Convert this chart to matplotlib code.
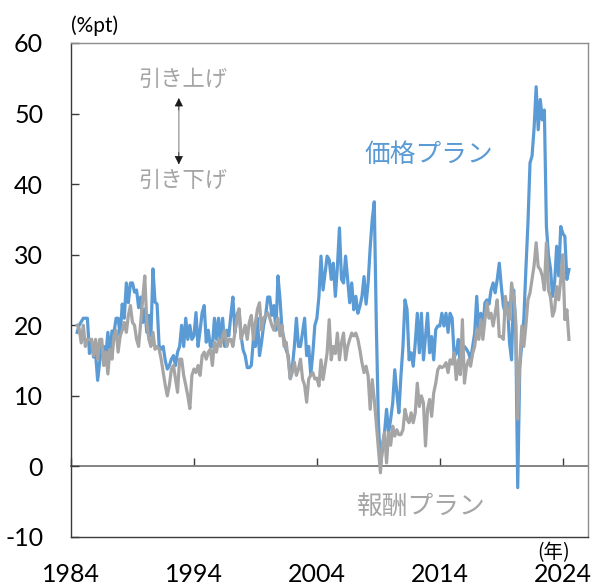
import numpy as np
import matplotlib
matplotlib.use("Agg")
import matplotlib.pyplot as plt

# Bimonthly observations starting mid-1984 (%pt)
start_year = 1984.5
price_plan = [
    19, 20, 20.5,                          # 1984
    21, 21, 21, 16, 18, 15.5,              # 1985
    16, 12.2, 14.8, 17, 17, 15.7,          # 1986
    19, 15.7, 19.2, 19, 21, 21,            # 1987
    18.5, 23, 21, 26, 23.2, 26,            # 1988
    26, 24.7, 25, 22.5, 24, 20.4,          # 1989
    22.3, 19, 21.4, 18.5, 28, 23.3,        # 1990
    23, 17.1, 16.6, 17, 15, 13.8,          # 1991
    14.3, 15.2, 15.7, 14.3, 16.2, 17,      # 1992
    20, 17, 21, 18, 20, 18,                # 1993
    18.5, 21.8, 17, 19.3, 21.8, 22.8,      # 1994
    17.6, 19.3, 17, 17, 21, 18,            # 1995
    21, 17.6, 21, 17, 19.3, 18.5,          # 1996
    21.4, 24, 19, 21.4, 22.3, 18.5,        # 1997
    16.5, 15.7, 14, 14, 14.3, 18,          # 1998
    17, 21, 15.7, 17.6, 20, 21.4,          # 1999
    24, 24, 21.4, 22.8, 19.3, 27,          # 2000
    23.7, 19.3, 18, 16.5, 15.7, 12.5,      # 2001
    14, 17, 21, 17, 17, 19,                # 2002
    21, 15.7, 17, 13, 16, 20,              # 2003
    21, 24.1, 29.8, 25, 27.4, 29.8,        # 2004
    29.3, 26.5, 28.8, 24.1, 28.3, 33.8,    # 2005
    26.5, 26, 29.8, 26.5, 23.2, 26,        # 2006
    22.2, 24.1, 21.7, 22.7, 24.1, 26.9,    # 2007
    23, 26, 31, 35, 37.5, 20,              # 2008
    6.5, 0, 2.4, 4.8, 8.1, 4.8,            # 2009
    6.7, 9, 13.7, 10.4, 7.6, 12.8,         # 2010
    17, 23.6, 22.2, 15.1, 16.1, 14.2,      # 2011
    17.5, 21.7, 16.1, 21.7, 15.1, 18.4,    # 2012
    21.7, 16.1, 18.4, 15.1, 19.4, 19.9,    # 2013
    19.9, 21.7, 19.9, 21.7, 19, 21.7,      # 2014
    21, 15.6, 16, 18, 14.2, 17,            # 2015
    17, 16.6, 16.1, 15.1, 17, 18.9,        # 2016
    24.1, 18.9, 21.7, 19.5, 23.2, 23.6,    # 2017
    23, 25, 26, 24.6, 26.5, 28.8,          # 2018
    25.5, 22.7, 21.7, 23.2, 17.5, 15.1,    # 2019
    25, 20, -3, 14, 17.5, 21,              # 2020
    28, 34.5, 43, 44, 48, 53.8,            # 2021
    47.7, 52, 49.1, 50.5, 34, 30,          # 2022
    28, 24.1, 26, 31.2, 27, 34,            # 2023
    33, 32.6, 26.5, 27.9,                  # 2024
]
pay_plan = [
    20, 19.5, 17.5,                        # 1984
    20, 17, 18, 18, 18, 15.7,              # 1985
    18, 15.2, 18, 18, 14.3, 16.2,          # 1986
    13.1, 16.6, 15.2, 18.5, 19.3, 16.2,    # 1987
    18.5, 19.3, 20.4, 19, 21.4, 22.8,      # 1988
    20.4, 20, 18, 17, 20.4, 23.7,          # 1989
    27, 20.4, 18, 17, 19, 16.6,            # 1990
    17, 16.6, 15.2, 13.3, 11.5, 10,        # 1991
    11.5, 13.8, 14.3, 12.4, 10.5, 15.2,    # 1992
    15.2, 12.9, 11.5, 10, 8.2, 12.9,       # 1993
    13.8, 13.3, 14.3, 12.9, 15.7, 16.2,    # 1994
    15.2, 16.2, 16.6, 14.3, 17.6, 16.2,    # 1995
    18, 17, 18.5, 19.3, 17, 18,            # 1996
    18, 17, 19, 21, 22.3, 18,              # 1997
    19, 20, 18, 20.4, 21.4, 18,            # 1998
    20.4, 22.3, 23.2, 19.3, 21, 21.4,      # 1999
    21.8, 21, 20, 19.3, 20.4, 21,          # 2000
    18.5, 20, 17, 17.6, 15.2, 12.4,        # 2001
    13.3, 14.8, 12.9, 13.8, 15.2, 12.4,    # 2002
    11.5, 9.1, 12.4, 12.9, 13.3, 12.4,     # 2003
    12.5, 11.4, 15.1, 12.3, 14.2, 16.1,    # 2004
    20.8, 15.1, 17, 16, 18.9, 15.1,        # 2005
    17.5, 18.9, 15.1, 17, 18, 18.9,        # 2006
    18.5, 18.9, 18, 16.5, 14.7, 13.3,      # 2007
    14.2, 12.8, 8.1, 12.3, 9.5, 6,         # 2008
    2.4, -0.9, 3.3, 4.8, 0.5, 4.8,         # 2009
    3, 5.7, 4.3, 5.2, 4.5, 4.5,            # 2010
    5.2, 8.1, 6.7, 6.2, 7.6, 6.2,          # 2011
    7.6, 11.8, 8.5, 10, 9, 2.9,            # 2012
    8.1, 9.5, 7.1, 10.4, 11.8, 13.7,       # 2013
    14.2, 14, 14.2, 14.7, 13.3, 15.1,      # 2014
    14.5, 16.1, 12.3, 15.1, 13, 20.8,      # 2015
    11.8, 14.2, 15.1, 14.2, 16, 17,        # 2016
    19.4, 18, 20.8, 18, 20.8, 23.2,        # 2017
    21, 21.7, 19.9, 21.7, 23.6, 18.4,      # 2018
    18.4, 18, 24.1, 21.7, 20.8, 26,        # 2019
    24.1, 20.8, 6.7, 14.7, 19.9, 17,       # 2020
    20, 23.6, 24.6, 26.5, 28.5, 31.7,      # 2021
    28.3, 27.9, 27, 25, 31.7, 25,          # 2022
    24, 21.3, 22.2, 25.5, 23.6, 26.5,      # 2023
    30, 20.8, 22.2, 18,                    # 2024
]
year_ticks = [1984, 1994, 2004, 2014, 2024]
value_ticks = [-10, 0, 10, 20, 30, 40, 50, 60]

BLUE = "#5B9BD5"
GRAY = "#A5A5A5"
DIGIT_FONT = ["Lato", "DejaVu Sans"]
JP_FONT = ["Noto Sans CJK JP", "DejaVu Sans"]

t = start_year + np.arange(len(price_plan)) / 6.0

fig = plt.figure(figsize=(5.95, 5.86), dpi=100)
ax = fig.add_axes([71 / 595, 49 / 586, 517 / 595, 494 / 586])

ax.plot(t, price_plan, color=BLUE, lw=2.3, solid_joinstyle="round", zorder=3)
ax.plot(t, pay_plan, color=GRAY, lw=2.3, solid_joinstyle="round", zorder=4)

ax.set_xlim(1984, 2026.05)
ax.set_ylim(-10, 60)

# frame
for side in ("top", "right"):
    ax.spines[side].set_color("#8c8c8c")
    ax.spines[side].set_linewidth(1.0)
for side in ("left", "bottom"):
    ax.spines[side].set_color("#3a3a3a")
    ax.spines[side].set_linewidth(1.0)

ax.set_yticks(value_ticks)
ax.set_yticklabels([str(v) for v in value_ticks], fontfamily=DIGIT_FONT, fontsize=18)
ax.tick_params(axis="y", direction="in", length=6, width=1.0, color="#3a3a3a", pad=20)

ax.set_xticks(year_ticks)
ax.set_xticklabels([str(y) for y in year_ticks], fontfamily=DIGIT_FONT, fontsize=18)
ax.tick_params(axis="x", length=0, pad=19)

# horizontal axis at zero with upward year ticks
zero_axis = ax.secondary_xaxis(10 / 70)
zero_axis.set_xticks(year_ticks)
zero_axis.tick_params(axis="x", direction="in", length=6, width=1.0, color="#3a3a3a",
                      labelbottom=False)
zero_axis.spines["bottom"].set_color("#7a7a7a")
zero_axis.spines["bottom"].set_linewidth(1.3)

# series labels
ax.text(2013.1, 44.2, "価格プラン", color=BLUE, fontsize=18.5, family=JP_FONT,
        ha="center", va="center", zorder=6)
ax.text(2012.5, -5.7, "報酬プラン", color=GRAY, fontsize=18.5, family=JP_FONT,
        ha="center", va="center", zorder=6)

# direction guide
ax.text(1993.1, 54.8, "引き上げ", color=GRAY, fontsize=16, family=JP_FONT,
        ha="center", va="center")
ax.text(1993.1, 40.5, "引き下げ", color=GRAY, fontsize=16, family=JP_FONT,
        ha="center", va="center")
ax.annotate("", xy=(1992.77, 52.0), xytext=(1992.77, 43.0),
            arrowprops=dict(arrowstyle="-", color="#a0a0a0", lw=1.0,
                            shrinkA=0, shrinkB=0))
ax.annotate("", xy=(1992.77, 52.2), xytext=(1992.77, 50.5),
            arrowprops=dict(arrowstyle="-|>", color="#1a1a1a", lw=0.5,
                            mutation_scale=13, shrinkA=0, shrinkB=0))
ax.annotate("", xy=(1992.77, 42.8), xytext=(1992.77, 44.5),
            arrowprops=dict(arrowstyle="-|>", color="#1a1a1a", lw=0.5,
                            mutation_scale=13, shrinkA=0, shrinkB=0))

# unit labels
ax.text(0.046, 1.036, "(%pt)", transform=ax.transAxes, fontsize=15,
        family=DIGIT_FONT, ha="center", va="center")
ax.text(0.934, -0.031, "(年)", transform=ax.transAxes, fontsize=14,
        family=JP_FONT, ha="center", va="center")

fig.savefig("out.png", dpi=100)
